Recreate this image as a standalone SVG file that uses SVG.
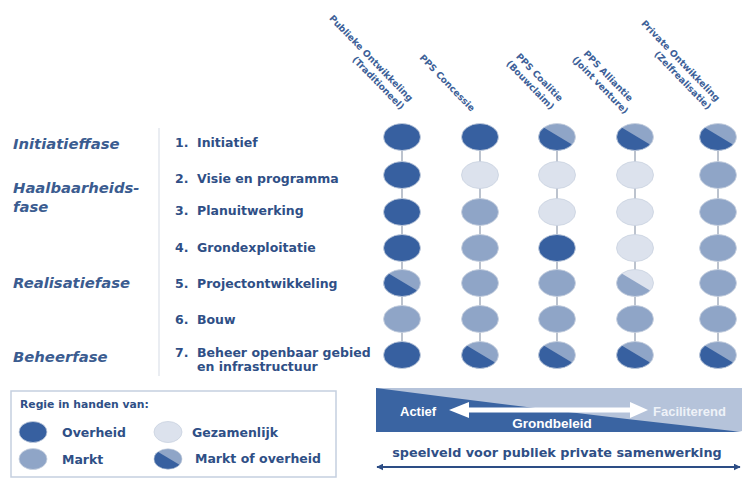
<svg xmlns="http://www.w3.org/2000/svg" xmlns:xlink="http://www.w3.org/1999/xlink" width="742" height="479" viewBox="0 0 742 479">
<style>
.t{font-family:"DejaVu Sans",Verdana,sans-serif;font-weight:bold;fill:#2f4f86}
.step{font-size:12.5px}
.phase{font-size:14.8px;font-style:italic;fill:#3b5c90}
.col{font-size:9.2px;fill:#3d5f98}
.a{font-family:"Liberation Sans",Arial,sans-serif;font-weight:bold;font-size:13px;fill:#ffffff}
.d{fill:#3760a0}.m{fill:#8fa5c7}.l{fill:#dce2ed}
.cell{stroke:#c9d2e0;stroke-width:0.8}
.conn{stroke:#bcc3ce;stroke-width:2;fill:none}
</style>
<defs>
<clipPath id="cut"><polygon points="-25,-16.5 25,13.5 25,20 -25,20"/></clipPath>
<g id="split"><ellipse rx="18.5" ry="13.5" class="m"/><ellipse rx="18.5" ry="13.5" class="d" clip-path="url(#cut)"/><ellipse rx="18.5" ry="13.5" fill="none" class="cell"/></g>
<g id="split2"><ellipse rx="18.5" ry="13.5" class="l"/><ellipse rx="18.5" ry="13.5" class="m" clip-path="url(#cut)"/><ellipse rx="18.5" ry="13.5" fill="none" class="cell"/></g>
<marker id="ah" viewBox="0 0 10 10" refX="9" refY="5" markerWidth="7" markerHeight="7" orient="auto-start-reverse" markerUnits="userSpaceOnUse"><path d="M0,0 L10,5 L0,10 Z" fill="#2d4d85"/></marker>
</defs>
<rect width="742" height="479" fill="#ffffff"/>

<g id="column-labels">
<text class="t col" text-anchor="end" transform="translate(409,102) rotate(46)">Publieke Ontwikkeling<tspan x="0" dy="12">(Traditioneel)</tspan></text>
<text class="t col" text-anchor="end" transform="translate(471,112) rotate(46)">PPS Concessie</text>
<text class="t col" text-anchor="end" transform="translate(559,102) rotate(46)">PPS Coalitie<tspan x="0" dy="12">(Bouwclaim)</tspan></text>
<text class="t col" text-anchor="end" transform="translate(629,102) rotate(46)">PPS Alliantie<tspan x="6" dy="12">(Joint venture)</tspan></text>
<text class="t col" text-anchor="end" transform="translate(716,102) rotate(46)">Private Ontwikkeling<tspan x="0" dy="12">(Zelfrealisatie)</tspan></text>
</g>

<g id="phases">
<text class="t phase" x="13" y="149">Initiatieffase</text>
<text class="t phase" x="13" y="193">Haalbaarheids-</text>
<text class="t phase" x="13" y="212">fase</text>
<text class="t phase" x="13" y="288">Realisatiefase</text>
<text class="t phase" x="13" y="362">Beheerfase</text>
</g>
<line x1="159" y1="128" x2="159" y2="376" stroke="#e3e7ee" stroke-width="1.5"/>

<g id="steps">
<text class="t step" x="175" y="147">1.</text><text class="t step" x="197" y="147">Initiatief</text>
<text class="t step" x="175" y="183">2.</text><text class="t step" x="197" y="183">Visie en programma</text>
<text class="t step" x="175" y="215">3.</text><text class="t step" x="197" y="215">Planuitwerking</text>
<text class="t step" x="175" y="252">4.</text><text class="t step" x="197" y="252">Grondexploitatie</text>
<text class="t step" x="175" y="288">5.</text><text class="t step" x="197" y="288">Projectontwikkeling</text>
<text class="t step" x="175" y="324">6.</text><text class="t step" x="197" y="324">Bouw</text>
<text class="t step" x="175" y="357">7.</text><text class="t step" x="197" y="357">Beheer openbaar gebied</text>
<text class="t step" x="197" y="371">en infrastructuur</text>
</g>

<g id="connectors">
<line class="conn" x1="402" y1="137" x2="402" y2="355"/>
<line class="conn" x1="480" y1="137" x2="480" y2="355"/>
<line class="conn" x1="557" y1="137" x2="557" y2="355"/>
<line class="conn" x1="635" y1="137" x2="635" y2="355"/>
<line class="conn" x1="718" y1="137" x2="718" y2="355"/>
</g>

<g id="col-publiek">
<ellipse class="d cell" cx="402" cy="137" rx="18.5" ry="13.5"/>
<ellipse class="d cell" cx="402" cy="175" rx="18.5" ry="13.5"/>
<ellipse class="d cell" cx="402" cy="212" rx="18.5" ry="13.5"/>
<ellipse class="d cell" cx="402" cy="248" rx="18.5" ry="13.5"/>
<use xlink:href="#split" x="402" y="283"/>
<ellipse class="m cell" cx="402" cy="319" rx="18.5" ry="13.5"/>
<ellipse class="d cell" cx="402" cy="355" rx="18.5" ry="13.5"/>
</g>
<g id="col-concessie">
<ellipse class="d cell" cx="480" cy="137" rx="18.5" ry="13.5"/>
<ellipse class="l cell" cx="480" cy="175" rx="18.5" ry="13.5"/>
<ellipse class="m cell" cx="480" cy="212" rx="18.5" ry="13.5"/>
<ellipse class="m cell" cx="480" cy="248" rx="18.5" ry="13.5"/>
<ellipse class="m cell" cx="480" cy="283" rx="18.5" ry="13.5"/>
<ellipse class="m cell" cx="480" cy="319" rx="18.5" ry="13.5"/>
<use xlink:href="#split" x="480" y="355"/>
</g>
<g id="col-coalitie">
<use xlink:href="#split" x="557" y="137"/>
<ellipse class="l cell" cx="557" cy="175" rx="18.5" ry="13.5"/>
<ellipse class="l cell" cx="557" cy="212" rx="18.5" ry="13.5"/>
<ellipse class="d cell" cx="557" cy="248" rx="18.5" ry="13.5"/>
<ellipse class="m cell" cx="557" cy="283" rx="18.5" ry="13.5"/>
<ellipse class="m cell" cx="557" cy="319" rx="18.5" ry="13.5"/>
<use xlink:href="#split" x="557" y="355"/>
</g>
<g id="col-alliantie">
<use xlink:href="#split" x="635" y="137"/>
<ellipse class="l cell" cx="635" cy="175" rx="18.5" ry="13.5"/>
<ellipse class="l cell" cx="635" cy="212" rx="18.5" ry="13.5"/>
<ellipse class="l cell" cx="635" cy="248" rx="18.5" ry="13.5"/>
<use xlink:href="#split2" x="635" y="283"/>
<ellipse class="m cell" cx="635" cy="319" rx="18.5" ry="13.5"/>
<use xlink:href="#split" x="635" y="355"/>
</g>
<g id="col-private">
<use xlink:href="#split" x="718" y="137"/>
<ellipse class="m cell" cx="718" cy="175" rx="18.5" ry="13.5"/>
<ellipse class="m cell" cx="718" cy="212" rx="18.5" ry="13.5"/>
<ellipse class="m cell" cx="718" cy="248" rx="18.5" ry="13.5"/>
<ellipse class="m cell" cx="718" cy="283" rx="18.5" ry="13.5"/>
<ellipse class="m cell" cx="718" cy="319" rx="18.5" ry="13.5"/>
<use xlink:href="#split" x="718" y="355"/>
</g>

<g id="legend">
<rect x="11" y="391" width="325" height="86" fill="#ffffff" stroke="#c5cfdf" stroke-width="1.5"/>
<text class="t" x="20" y="408" style="font-size:10.8px">Regie in handen van:</text>
<ellipse class="d cell" cx="33" cy="432" rx="14" ry="10.5"/>
<text class="t step" x="62" y="437">Overheid</text>
<ellipse class="l cell" cx="168" cy="432" rx="14" ry="10.5"/>
<text class="t step" x="192" y="437">Gezamenlijk</text>
<ellipse class="m cell" cx="33" cy="459" rx="14" ry="10.5"/>
<text class="t step" x="62" y="464">Markt</text>
<use xlink:href="#split" transform="translate(168,459) scale(0.76)"/>
<text class="t step" x="195" y="463">Markt of overheid</text>
</g>

<g id="grondbeleid">
<rect x="376" y="388" width="366" height="43" fill="#b5c3da"/>
<path d="M376,388 Q560,412 742,432 L376,432 Z" fill="#3a64a2"/>
<path d="M449,410 L469,402 L469,407.5 L630,407.5 L630,402 L648,410 L630,418 L630,412.5 L469,412.5 L469,418 Z" fill="#ffffff"/>
<text class="a" x="400" y="416">Actief</text>
<text class="a" x="653" y="416" style="fill:#eef2f8">Faciliterend</text>
<text class="a" x="552" y="428" text-anchor="middle" style="font-size:13.5px">Grondbeleid</text>
</g>

<g id="speelveld">
<text class="t" x="557" y="457" text-anchor="middle" style="font-size:12.8px">speelveld voor publiek private samenwerking</text>
<line x1="377" y1="467" x2="740" y2="467" stroke="#2d4d85" stroke-width="2" marker-start="url(#ah)" marker-end="url(#ah)"/>
</g>
</svg>
